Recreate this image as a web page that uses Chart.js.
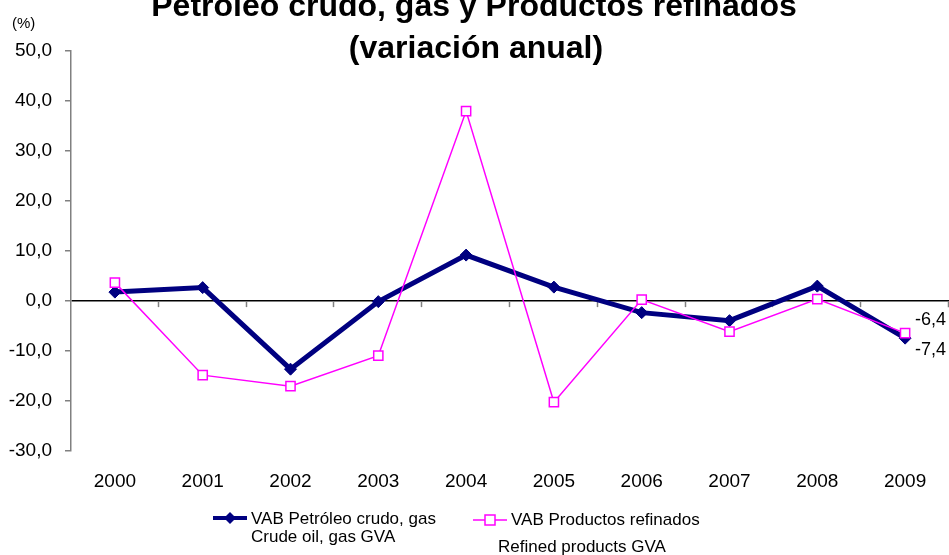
<!DOCTYPE html>
<html><head><meta charset="utf-8">
<script src="https://cdn.jsdelivr.net/npm/chart.js@4/dist/chart.umd.min.js"></script>
<style>html,body{margin:0;padding:0;background:#fff;overflow:hidden}#wrap{position:relative;width:949px;height:555px}</style>
</head><body><div id="wrap"><canvas id="c" width="949" height="555"></canvas></div>
<script>
const years = ['2000','2001','2002','2003','2004','2005','2006','2007','2008','2009'];
const crudeOilGas = [1.8, 2.7, -13.6, -0.1, 9.2, 2.8, -2.3, -3.9, 3.0, -7.4];
const refinedProducts = [3.7, -14.8, -17.0, -10.9, 38.0, -20.2, 0.3, -6.1, 0.4, -6.4];
const yMin = -30, yMax = 50, yStep = 10;
const titleLines = ['Petróleo crudo, gas y Productos refinados', '(variación anual)'];
const unitLabel = '(%)';
const crudeLegend = ['VAB Petróleo crudo, gas', 'Crude oil, gas GVA'];
const refinedLegend = ['VAB Productos refinados', 'Refined products GVA'];

const FONT = "'Liberation Sans', Arial, sans-serif";
const NAVY = '#000080', MAGENTA = '#FF00FF';
const fmt = v => v.toFixed(1).replace('.', ',');

const decor = {
  id: 'decor',
  beforeDatasetsDraw(chart) {
    const ctx = chart.ctx, a = chart.chartArea;
    const y0 = chart.scales.y.getPixelForValue(0);
    const w = a.width / years.length;
    ctx.save();
    ctx.strokeStyle = '#808080';
    ctx.lineWidth = 1.5;
    for (let i = 1; i <= years.length; i++) {
      const x = Math.round(a.left + i * w) - 0.5;
      ctx.beginPath(); ctx.moveTo(x, y0); ctx.lineTo(x, y0 + 6); ctx.stroke();
    }
    ctx.restore();
  },
  afterDraw(chart) {
    const ctx = chart.ctx;
    const xs = chart.scales.x, ys = chart.scales.y;
    ctx.save();
    ctx.fillStyle = '#000';
    ctx.font = 'bold 32px ' + FONT;
    ctx.textAlign = 'center';
    ctx.textBaseline = 'alphabetic';
    ctx.fillText(titleLines[0], 474, 16);
    ctx.fillText(titleLines[1], 476, 58);
    ctx.font = '15px ' + FONT;
    ctx.textAlign = 'left';
    ctx.textBaseline = 'middle';
    ctx.fillText(unitLabel, 12, 24);
    const last = years.length - 1;
    const lx = xs.getPixelForValue(last) + 10;
    ctx.font = '18px ' + FONT;
    ctx.fillText(fmt(refinedProducts[last]), lx, ys.getPixelForValue(refinedProducts[last]) - 13);
    ctx.fillText(fmt(crudeOilGas[last]), lx, ys.getPixelForValue(crudeOilGas[last]) + 12);
    ctx.font = '17px ' + FONT;
    ctx.strokeStyle = NAVY; ctx.lineWidth = 4;
    ctx.beginPath(); ctx.moveTo(213, 518); ctx.lineTo(247, 518); ctx.stroke();
    ctx.fillStyle = NAVY;
    ctx.beginPath(); ctx.moveTo(230, 512); ctx.lineTo(236, 518); ctx.lineTo(230, 524); ctx.lineTo(224, 518); ctx.closePath(); ctx.fill();
    ctx.fillStyle = '#000';
    ctx.fillText(crudeLegend[0], 251, 519);
    ctx.fillText(crudeLegend[1], 251, 537);
    ctx.strokeStyle = MAGENTA; ctx.lineWidth = 1.5;
    ctx.beginPath(); ctx.moveTo(473, 520); ctx.lineTo(507, 520); ctx.stroke();
    ctx.fillStyle = '#fff';
    ctx.fillRect(485, 515, 10, 10);
    ctx.strokeRect(485, 515, 10, 10);
    ctx.fillStyle = '#000';
    ctx.fillText(refinedLegend[0], 511, 520);
    ctx.fillText(refinedLegend[1], 498, 547);
    ctx.restore();
  }
};

new Chart(document.getElementById('c'), {
  type: 'line',
  data: {
    labels: years,
    datasets: [
      {
        label: refinedLegend[0],
        data: refinedProducts,
        borderColor: MAGENTA,
        borderWidth: 1.5,
        pointStyle: 'rect',
        pointRadius: 6.5,
        pointBorderWidth: 1.5,
        pointBackgroundColor: '#fff',
        pointBorderColor: MAGENTA,
        tension: 0,
        order: 0
      },
      {
        label: crudeLegend[0],
        data: crudeOilGas,
        borderColor: NAVY,
        borderWidth: 5,
        pointStyle: 'rectRot',
        pointRadius: 6,
        pointBorderWidth: 1,
        pointBackgroundColor: NAVY,
        pointBorderColor: NAVY,
        tension: 0,
        order: 1
      }
    ]
  },
  options: {
    responsive: false,
    devicePixelRatio: 1,
    animation: false,
    layout: { autoPadding: false, padding: { top: 51, right: 0, bottom: 51, left: 0 } },
    plugins: { legend: { display: false }, title: { display: false }, tooltip: { enabled: false } },
    scales: {
      x: {
        offset: true,
        grid: { display: false },
        border: { display: false },
        ticks: { color: '#000', font: { family: FONT, size: 19 }, padding: 11, maxRotation: 0 },
        afterFit: s => { s.paddingRight = 0; s.paddingLeft = 0; }
      },
      y: {
        min: yMin, max: yMax,
        ticks: { stepSize: yStep, color: '#000', font: { family: FONT, size: 19 }, padding: 13, callback: v => fmt(v) },
        grid: {
          color: c => (c.tick && c.tick.value === 0) ? '#000' : 'rgba(0,0,0,0)',
          lineWidth: 1.5,
          tickColor: '#808080',
          tickLength: 6,
          drawOnChartArea: true
        },
        border: { display: true, color: '#808080', width: 1.5 },
        afterFit: s => { s.width = 71; }
      }
    }
  },
  plugins: [decor]
});
</script>
</body></html>
